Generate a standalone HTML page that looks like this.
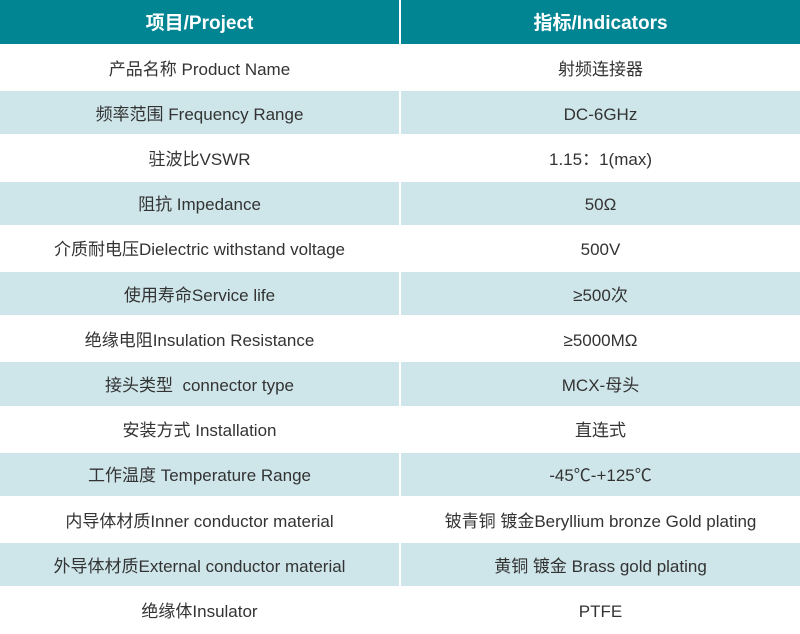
<!DOCTYPE html><html><head><meta charset="utf-8"><style>
body{margin:0;width:800px;height:634px;background:#fff;font-family:"Liberation Sans","Noto Sans CJK SC",sans-serif;overflow:hidden}
.r{position:absolute;left:0;width:800px;display:flex}
.c{height:100%;display:flex;align-items:center;justify-content:center;font-size:17px;color:#333;line-height:20px}
.c span{display:block;height:20px;line-height:20px;position:relative;top:2px}
.c1{width:399px;margin-right:2px}.c2{width:399px}
.h .c{background:#028593;color:#fff;font-weight:bold;font-size:19px}
.b .c{background:#cee6ea}
</style></head><body>
<div class="r h" style="top:0;height:44px"><div class="c c1"><span>项目/Project</span></div><div class="c c2"><span>指标/Indicators</span></div></div>
<div id="t"></div>
<script>
var d=[["产品名称 Product Name","射频连接器"],["频率范围 Frequency Range","DC-6GHz"],["驻波比VSWR","1.15：1(max)"],["阻抗 Impedance","50Ω"],["介质耐电压Dielectric withstand voltage","500V"],["使用寿命Service life","≥500次"],["绝缘电阻Insulation Resistance","≥5000MΩ"],["接头类型&nbsp; connector type","MCX-母头"],["安装方式 Installation","直连式"],["工作温度 Temperature Range","-45℃-+125℃"],["内导体材质Inner conductor material","铍青铜 镀金Beryllium bronze Gold plating"],["外导体材质External conductor material","黄铜 镀金 Brass gold plating"],["绝缘体Insulator","PTFE"]];
var h="";d.forEach(function(x,i){var top=45+i*45.2;h+='<div class="r'+(i%2?' b':'')+'" style="top:'+(top+1).toFixed(1)+'px;height:43.2px"><div class="c c1"><span>'+x[0]+'</span></div><div class="c c2"><span>'+x[1]+'</span></div></div>';});
document.getElementById("t").innerHTML=h;
</script></body></html>
